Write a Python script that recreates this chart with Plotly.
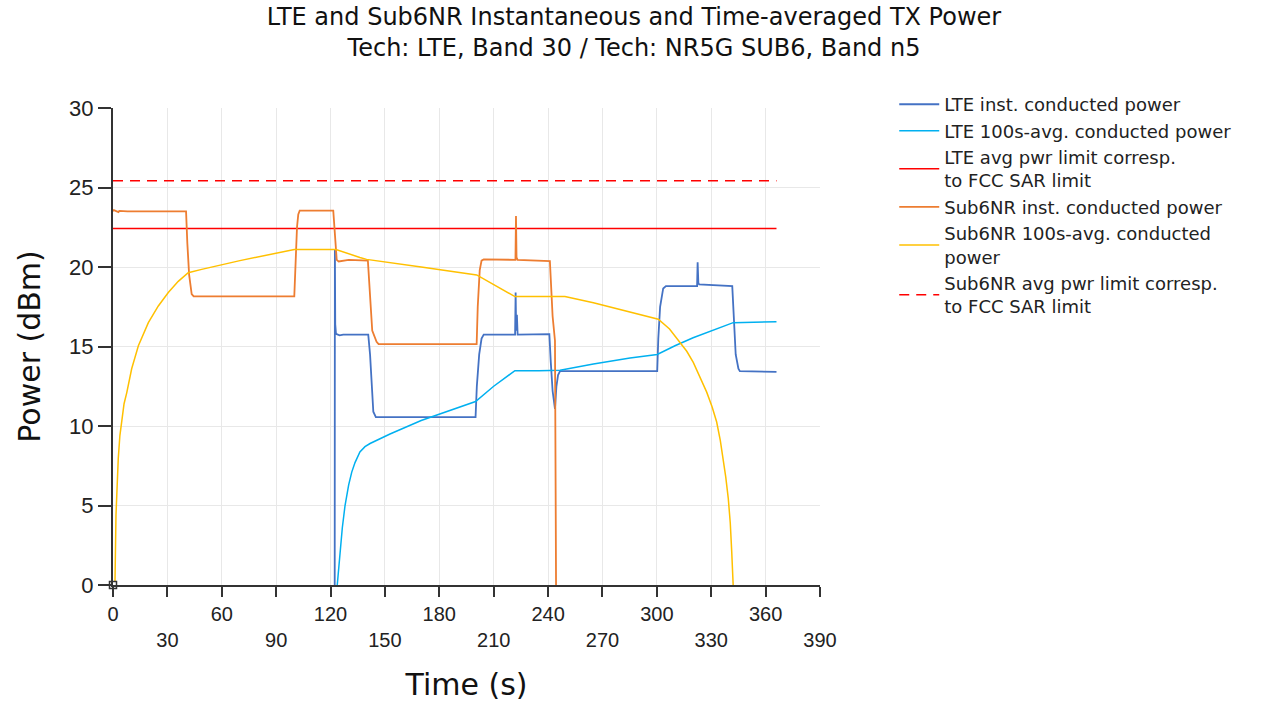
import plotly.graph_objects as go

# ---------------- data ----------------
sub6_inst_t = [0, 0.5, 3, 3.5, 8, 40.3, 41.0, 42.0, 43.4, 44.5, 100.0, 100.8, 101.5, 102.2, 103.0,
               121.5, 122.3, 123.4, 124.5, 130.0, 140.6, 141.5, 143.0, 145.4, 146.5,
               200.6, 201.2, 202.3, 203.3, 204.5, 222.0, 222.3, 222.6, 223.2,
               241.0, 242.5, 243.8, 244.4]
sub6_inst_p = [23.5, 23.58, 23.45, 23.53, 23.5, 23.5, 21.5, 19.5, 18.3, 18.15, 18.15, 20.5, 22.5, 23.3, 23.55,
               23.55, 22.0, 20.45, 20.35, 20.45, 20.4, 18.5, 16.0, 15.3, 15.15,
               15.15, 17.5, 19.8, 20.4, 20.48, 20.45, 23.2, 20.6, 20.45,
               20.37, 16.9, 15.36, 0]

sub6_avg_t = [0, 1.1, 1.65, 2.3, 2.9, 3.8, 4.8, 6.1, 7.6, 10.3, 14.0, 19.5, 25.0, 30.5, 36.0, 41.5, 48.9,
              70.0, 100.0, 123.0, 136.2, 139.9, 170.0, 200.6, 221.7, 249.3, 265.0, 279.6,
              300.8, 307.0, 312.7, 316.5, 320.1, 324.0, 327.5, 330.5, 333.0, 335.0, 336.6,
              338.0, 339.4, 340.5, 341.3, 342.1]
sub6_avg_p = [0, 0.2, 4.4, 6.4, 7.95, 9.4, 10.46, 11.4, 12.1, 13.6, 15.05, 16.5, 17.55, 18.4, 19.1, 19.64, 19.85,
              20.4, 21.1, 21.1, 20.6, 20.48, 20.0, 19.5, 18.14, 18.14, 17.75, 17.35,
              16.72, 16.1, 15.26, 14.7, 14.0, 13.05, 12.13, 11.2, 10.25, 9.1, 7.95,
              6.8, 5.45, 3.9, 2.1, 0]

lte_inst_t = [122.3, 122.4, 122.6, 123.0, 124.0, 125.0, 127.0, 140.8, 141.8, 142.8, 143.6, 145.0,
              200.0, 200.7, 202.0, 203.3, 204.5, 221.8, 222.1, 222.4, 222.8, 223.2,
              240.7, 241.5, 242.5, 243.8, 244.6, 245.5, 246.6, 248.0,
              300.2, 300.8, 301.8, 303.5, 305.0, 322.2, 322.5, 322.9, 323.3,
              341.6, 342.5, 343.5, 345.0, 345.8, 366.0]
lte_inst_p = [0, 21.1, 16.4, 15.8, 15.75, 15.7, 15.75, 15.75, 14.5, 12.5, 10.9, 10.56,
              10.56, 12.5, 14.5, 15.5, 15.75, 15.75, 18.4, 16.0, 17.0, 15.75,
              15.78, 14.0, 12.2, 11.08, 12.5, 13.2, 13.45, 13.45,
              13.45, 15.5, 17.5, 18.65, 18.8, 18.8, 20.3, 19.0, 18.9,
              18.8, 16.5, 14.5, 13.6, 13.45, 13.4]

lte_avg_t = [123.7, 124.4, 125.2, 126.5, 128.0, 130.0, 131.7, 133.5, 136.2, 139.0, 141.8, 152.8,
             170.0, 185.0, 200.0, 210.0, 221.7, 235.0, 246.6, 265.0, 285.2, 300.2, 310.0,
             320.0, 330.0, 342.1, 366.0]
lte_avg_p = [0, 1.0, 1.9, 3.6, 5.0, 6.3, 7.1, 7.7, 8.37, 8.7, 8.9, 9.5,
             10.35, 10.95, 11.54, 12.5, 13.48, 13.48, 13.5, 13.9, 14.28, 14.5, 15.05,
             15.55, 16.0, 16.5, 16.55]

limit_t = [0, 366]
lte_limit_p = [22.42, 22.42]
sub6_limit_p = [25.42, 25.42]

x_tick_vals = [0, 30, 60, 90, 120, 150, 180, 210, 240, 270, 300, 330, 360, 390]
x_tick_text = ["0", "<br>30", "60", "<br>90", "120", "<br>150", "180", "<br>210",
               "240", "<br>270", "300", "<br>330", "360", "<br>390"]
y_tick_vals = [0, 5, 10, 15, 20, 25, 30]

# ---------------- figure ----------------
fig = go.Figure()

fig.add_trace(go.Scatter(x=lte_inst_t, y=lte_inst_p, mode="lines",
                         name="LTE inst. conducted power",
                         line=dict(color="#4472C4", width=1.8)))
fig.add_trace(go.Scatter(x=lte_avg_t, y=lte_avg_p, mode="lines",
                         name="LTE 100s-avg. conducted power",
                         line=dict(color="#00B0F0", width=1.5)))
fig.add_trace(go.Scatter(x=limit_t, y=lte_limit_p, mode="lines",
                         name="LTE avg pwr limit corresp.<br>to FCC SAR limit",
                         line=dict(color="#FF0000", width=1.5)))
fig.add_trace(go.Scatter(x=sub6_inst_t, y=sub6_inst_p, mode="lines",
                         name="Sub6NR inst. conducted power",
                         line=dict(color="#ED7D31", width=1.8)))
fig.add_trace(go.Scatter(x=sub6_avg_t, y=sub6_avg_p, mode="lines",
                         name="Sub6NR 100s-avg. conducted<br>power",
                         line=dict(color="#FFC000", width=1.5)))
fig.add_trace(go.Scatter(x=limit_t, y=sub6_limit_p, mode="lines",
                         name="Sub6NR avg pwr limit corresp.<br>to FCC SAR limit",
                         line=dict(color="#FF0000", width=1.5, dash="10px,7px")))
# origin marker
fig.add_trace(go.Scatter(x=[0], y=[0], mode="markers", showlegend=False, hoverinfo="skip",
                         marker=dict(symbol="square", size=7, color="white",
                                     line=dict(color="#333333", width=1.5)),
                         cliponaxis=False))

fig.update_layout(
    width=1261, height=708,
    paper_bgcolor="white", plot_bgcolor="white",
    margin=dict(l=113, r=441, t=108, b=121),
    title=dict(
        text="LTE and Sub6NR Instantaneous and Time-averaged TX Power<br>Tech: LTE, Band 30 / Tech: NR5G SUB6, Band n5",
        x=0.5028, xref="container", xanchor="center",
        y=0.965, yref="container", yanchor="top",
        font=dict(family="DejaVu Sans", size=24, color="#111111"),
    ),
    font=dict(family="Liberation Sans, Arial", color="#222222"),
    legend=dict(
        x=1.105, y=1.046, xanchor="left", yanchor="top",
        font=dict(family="DejaVu Sans", size=18, color="#222222"),
        bgcolor="rgba(0,0,0,0)", tracegroupgap=0, itemwidth=40,
    ),
    showlegend=True,
)

fig.update_xaxes(
    range=[0, 390], tickmode="array", tickvals=x_tick_vals, ticktext=x_tick_text,
    showgrid=True, gridcolor="#E8E8E8", gridwidth=1,
    showline=True, linecolor="#333333", linewidth=2,
    ticks="outside", ticklen=10, tickwidth=2, tickcolor="#333333",
    tickfont=dict(family="Liberation Sans, Arial", size=20, color="#222222"),
    zeroline=False,
    title=dict(text="Time (s)", font=dict(family="DejaVu Sans", size=30, color="#111111"), standoff=24),
)
fig.update_yaxes(
    range=[0, 30], tickmode="array", tickvals=y_tick_vals,
    showgrid=True, gridcolor="#E8E8E8", gridwidth=1,
    showline=True, linecolor="#333333", linewidth=2,
    ticks="outside", ticklen=13, tickwidth=2, tickcolor="#333333",
    tickfont=dict(family="Liberation Sans, Arial", size=22, color="#222222"),
    zeroline=False,
    title=dict(text="Power (dBm)", font=dict(family="DejaVu Sans", size=30, color="#111111"), standoff=20),
)

fig.write_html("out.html", config={"displayModeBar": False},
               post_script="document.body.style.margin='0px';")
